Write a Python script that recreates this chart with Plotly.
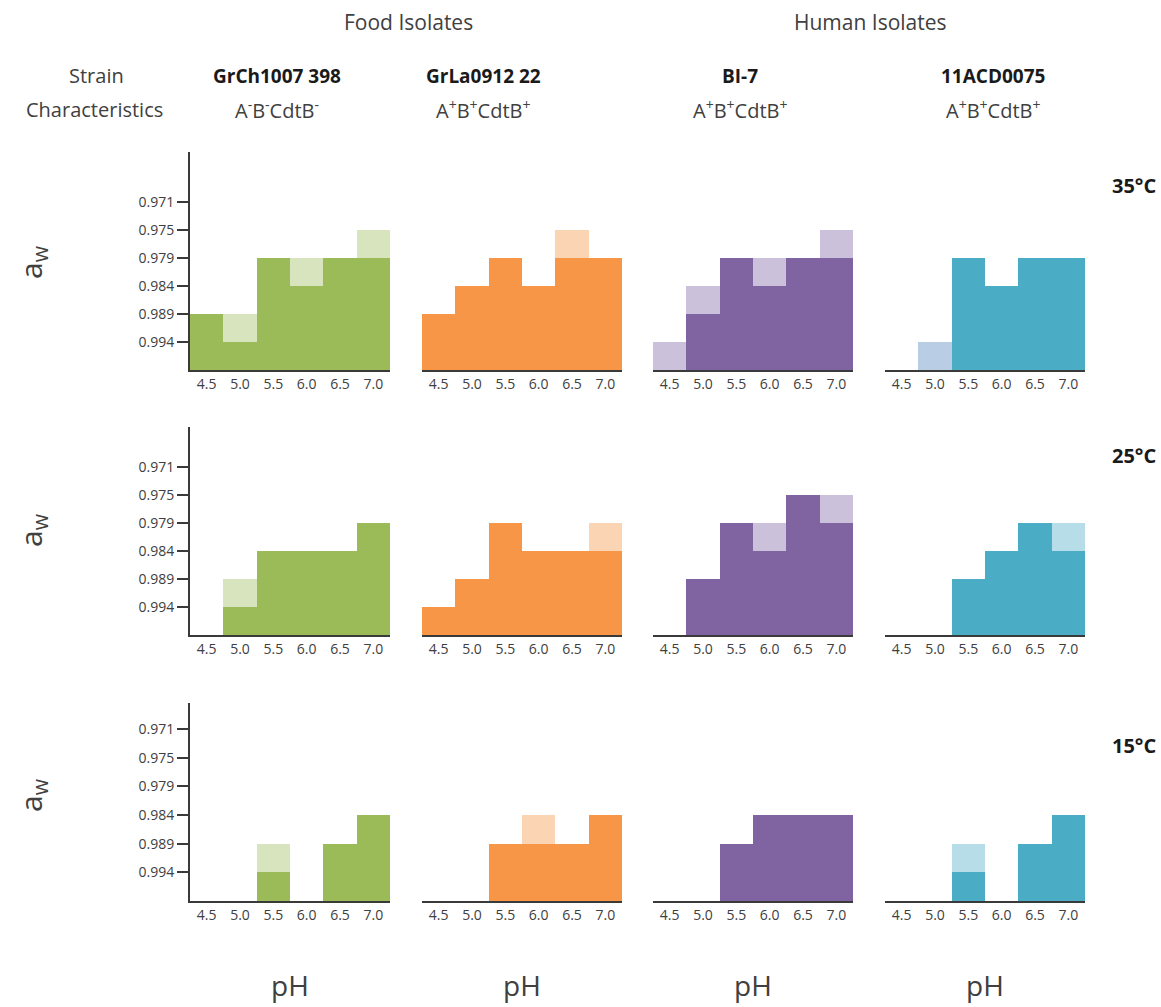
import plotly.graph_objects as go

# ---------------- data ----------------
ph_values = ["4.5", "5.0", "5.5", "6.0", "6.5", "7.0"]
aw_levels = [1, 2, 3, 4, 5, 6]
aw_labels = ["0.994", "0.989", "0.984", "0.979", "0.975", "0.971"]

strain_names = ["GrCh1007 398", "GrLa0912 22", "BI-7", "11ACD0075"]
strain_traits = ["A<sup>-</sup>B<sup>-</sup>CdtB<sup>-</sup>",
                 "A<sup>+</sup>B<sup>+</sup>CdtB<sup>+</sup>",
                 "A<sup>+</sup>B<sup>+</sup>CdtB<sup>+</sup>",
                 "A<sup>+</sup>B<sup>+</sup>CdtB<sup>+</sup>"]
temperatures = ["35°C", "25°C", "15°C"]

# growth reached (number of aw levels, counted from 0.994 upwards), one row per strain
solid_35 = [[2, 1, 4, 3, 4, 4],
            [2, 3, 4, 3, 4, 4],
            [0, 2, 4, 3, 4, 4],
            [0, 0, 4, 3, 4, 4]]
extra_35 = [[0, 1, 0, 1, 0, 1],
            [0, 0, 0, 0, 1, 0],
            [1, 1, 0, 1, 0, 1],
            [0, 1, 0, 0, 0, 0]]

solid_25 = [[0, 1, 3, 3, 3, 4],
            [1, 2, 4, 3, 3, 3],
            [0, 2, 4, 3, 5, 4],
            [0, 0, 2, 3, 4, 3]]
extra_25 = [[0, 1, 0, 0, 0, 0],
            [0, 0, 0, 0, 0, 1],
            [0, 0, 0, 1, 0, 1],
            [0, 0, 0, 0, 0, 1]]

solid_15 = [[0, 0, 1, 0, 2, 3],
            [0, 0, 2, 2, 2, 3],
            [0, 0, 2, 3, 3, 3],
            [0, 0, 1, 0, 2, 3]]
extra_15 = [[0, 0, 1, 0, 0, 0],
            [0, 0, 0, 1, 0, 0],
            [0, 0, 0, 0, 0, 0],
            [0, 0, 1, 0, 0, 0]]

solid_by_temp = [solid_35, solid_25, solid_15]
extra_by_temp = [extra_35, extra_25, extra_15]

# ---------------- styling ----------------
W, H = 1161, 1007
solid_colors = ["#9BBB59", "#F79646", "#8064A2", "#4BACC6"]
light_colors_by_temp = [["#D7E4BD", "#FBD4B4", "#CCC1DA", "#B9CDE5"],
                        ["#D7E4BD", "#FBD4B4", "#CCC1DA", "#B7DEE8"],
                        ["#D7E4BD", "#FBD4B4", "#CCC1DA", "#B7DEE8"]]
text_color = "#404040"
axis_color = "#3a3a3a"
FONT = "Open Sans"

col_px = [(190, 390), (422, 622), (653, 853), (885, 1085)]
row_px = [(152, 370, 202), (427, 635, 467), (703, 901, 729)]  # top, baseline, y of top tick


def px_x(a, b):
    return [a / W, b / W]


def px_y(top, bottom):
    return [1 - bottom / H, 1 - top / H]


fig = go.Figure()
layout_axes = {}
n = 0
for r in range(3):
    top, base, tick6 = row_px[r]
    step = (base - tick6) / 6.0
    ymax = (base - top) / step
    for c in range(4):
        n += 1
        xa = "x" if n == 1 else f"x{n}"
        ya = "y" if n == 1 else f"y{n}"
        fig.add_trace(go.Bar(x=ph_values, y=solid_by_temp[r][c], xaxis=xa, yaxis=ya,
                             marker=dict(color=solid_colors[c], line=dict(width=0)),
                             showlegend=False, hoverinfo="skip"))
        fig.add_trace(go.Bar(x=ph_values, y=extra_by_temp[r][c], xaxis=xa, yaxis=ya,
                             marker=dict(color=light_colors_by_temp[r][c], line=dict(width=0)),
                             showlegend=False, hoverinfo="skip"))
        xkey = "xaxis" if n == 1 else f"xaxis{n}"
        ykey = "yaxis" if n == 1 else f"yaxis{n}"
        layout_axes[xkey] = dict(domain=px_x(*col_px[c]), anchor=ya, type="category",
                                 categoryorder="array", categoryarray=ph_values,
                                 range=[-0.5, 5.5], showline=True, linecolor=axis_color,
                                 linewidth=2, ticks="", showgrid=False, zeroline=False,
                                 tickfont=dict(family=FONT, size=14, color=text_color),
                                 fixedrange=True)
        ycfg = dict(domain=px_y(top, base), anchor=xa, range=[0, ymax], showgrid=False,
                    zeroline=False, fixedrange=True)
        if c == 0:
            ycfg.update(showline=True, linecolor=axis_color, linewidth=2, ticks="outside",
                        ticklen=11, tickwidth=2, tickcolor=axis_color,
                        tickvals=aw_levels, ticktext=aw_labels,
                        tickfont=dict(family=FONT, size=14, color=text_color))
        else:
            ycfg.update(showline=False, showticklabels=False, ticks="")
        layout_axes[ykey] = ycfg

annotations = []


def ann(text, x, y, size, bold=False, angle=0, xanchor="center"):
    if bold:
        text = f"<b>{text}</b>"
    annotations.append(dict(text=text, x=x / W, y=1 - y / H, xref="paper", yref="paper",
                            showarrow=False, xanchor=xanchor, yanchor="middle",
                            textangle=angle,
                            font=dict(family=FONT, size=size,
                                      color=text_color if not bold else "#1a1a1a")))


ann("Food Isolates", 408, 22, 21)
ann("Human Isolates", 870, 22, 21)
ann("Strain", 96, 76, 20)
ann("Characteristics", 94, 109, 20)
name_x = [277, 483, 740, 993]
for i in range(4):
    ann(strain_names[i], name_x[i], 76, 19, bold=True)
    ann(strain_traits[i], name_x[i], 109, 20)

temp_y = [185, 455, 745]
for r in range(3):
    ann(temperatures[r], 1158, temp_y[r], 20, bold=True, xanchor="right")
    ann("a<sub>w</sub>", 32, [262, 530, 795][r], 30, angle=-90)

for c in range(4):
    ann("pH", (col_px[c][0] + col_px[c][1]) / 2, 985, 28)

fig.update_layout(width=W, height=H, margin=dict(l=0, r=0, t=0, b=0),
                  paper_bgcolor="white", plot_bgcolor="white",
                  barmode="stack", bargap=0, annotations=annotations, **layout_axes)

fig.write_html("out.html", config={"displayModeBar": False})
